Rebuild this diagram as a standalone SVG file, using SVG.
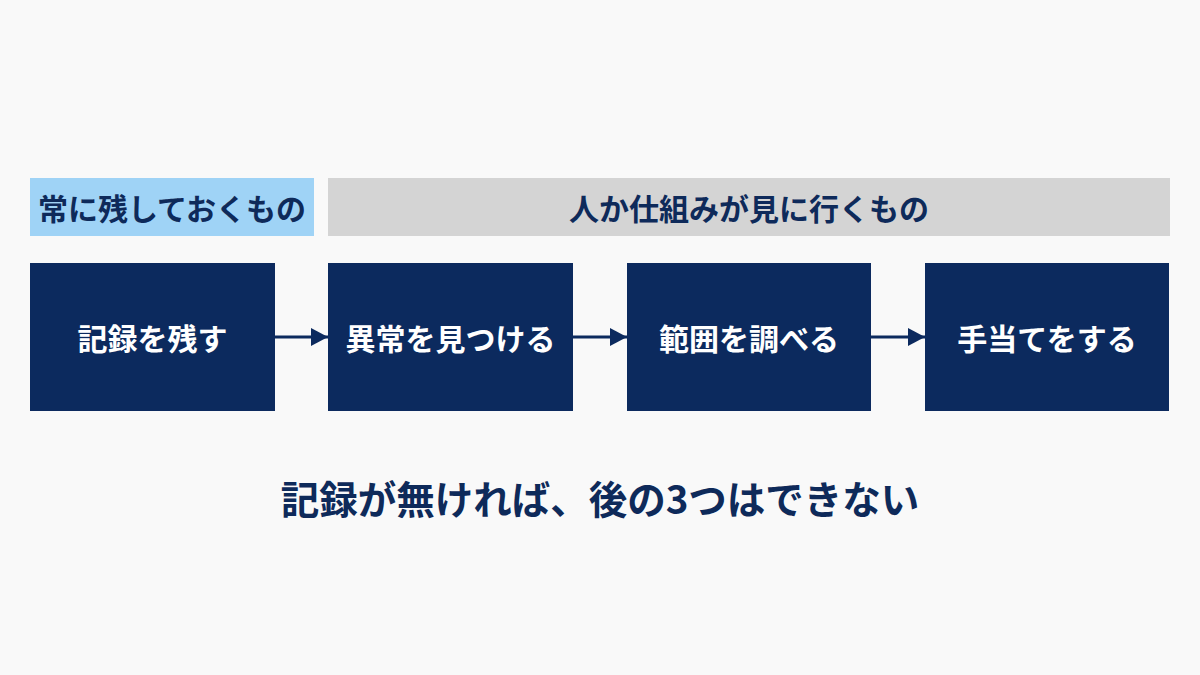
<svg xmlns="http://www.w3.org/2000/svg" width="1200" height="675" viewBox="0 0 1200 675">
<defs>
<style>
.t{font-family:"Noto Sans CJK JP","Noto Sans CJK SC",sans-serif;font-weight:700;text-anchor:middle;dominant-baseline:central}
.hd{font-size:30px;fill:#0e2a5a}
.bx{fill:#0c2a5e}
.bt{font-size:30px;fill:#ffffff}
.ln{stroke:#0c2a5e;stroke-width:3;fill:none}
</style>
<marker id="ah2" markerWidth="17" markerHeight="18" refX="17" refY="9" orient="auto" markerUnits="userSpaceOnUse" viewBox="0 0 17 18">
<path d="M0,0 L17,9 L0,18 Z" fill="#0c2a5e"/>
</marker>
</defs>
<rect width="1200" height="675" fill="#f9f9f9"/>
<g id="header-keep">
<rect x="30" y="178" width="284" height="58" fill="#9fd3f6"/>
<text class="t hd" x="172" y="207">常に残しておくもの</text>
</g>
<g id="header-look">
<rect x="328" y="178" width="842" height="58" fill="#d4d4d4"/>
<text class="t hd" x="749" y="207">人か仕組みが見に行くもの</text>
</g>
<g id="node1">
<rect class="bx" x="30" y="263" width="245" height="148"/>
<text class="t bt" x="152.5" y="337">記録を残す</text>
</g>
<g id="node2">
<rect class="bx" x="328" y="263" width="245" height="148"/>
<text class="t bt" x="450.5" y="337">異常を見つける</text>
</g>
<g id="node3">
<rect class="bx" x="627" y="263" width="244" height="148"/>
<text class="t bt" x="749" y="337">範囲を調べる</text>
</g>
<g id="node4">
<rect class="bx" x="925" y="263" width="244" height="148"/>
<text class="t bt" x="1047" y="337">手当てをする</text>
</g>
<g id="connectors">
<line class="ln" x1="275" y1="337" x2="328" y2="337" marker-end="url(#ah2)"/>
<line class="ln" x1="573" y1="337" x2="627" y2="337" marker-end="url(#ah2)"/>
<line class="ln" x1="871" y1="337" x2="925" y2="337" marker-end="url(#ah2)"/>
</g>
<text class="t" x="600" y="497" font-size="38.5" fill="#0e2a5a">記録が無ければ、後の3つはできない</text>
</svg>
